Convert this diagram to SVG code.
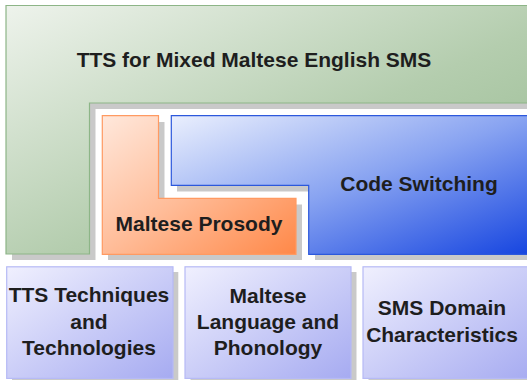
<svg xmlns="http://www.w3.org/2000/svg" width="527" height="380" viewBox="0 0 527 380">
  <defs>
    <linearGradient id="gGreen" x1="0" y1="0" x2="1" y2="1">
      <stop offset="0" stop-color="#eef3ec"/>
      <stop offset="0.55" stop-color="#b4cdae"/>
      <stop offset="1" stop-color="#93b88d"/>
    </linearGradient>
    <linearGradient id="gOrange" x1="0" y1="0" x2="1" y2="1">
      <stop offset="0" stop-color="#ffe8dc"/>
      <stop offset="0.5" stop-color="#ffbc98"/>
      <stop offset="1" stop-color="#ff8848"/>
    </linearGradient>
    <linearGradient id="gBlue" x1="0" y1="0" x2="1" y2="1">
      <stop offset="0" stop-color="#eaeffd"/>
      <stop offset="0.5" stop-color="#88a3f1"/>
      <stop offset="1" stop-color="#1645e0"/>
    </linearGradient>
    <linearGradient id="gLav" x1="0" y1="0" x2="1" y2="1">
      <stop offset="0" stop-color="#f0f0fe"/>
      <stop offset="1" stop-color="#a6abf1"/>
    </linearGradient>
  </defs>
  <style>
    .shadow { fill: #c9c9c9; }
    .label { font-family: "Liberation Sans", Arial, sans-serif; font-weight: bold; font-size: 21px; fill: #1e1e1e; text-anchor: middle; }
    .green { fill: url(#gGreen); stroke: #8db587; stroke-width: 1.2; }
    .orange { fill: url(#gOrange); stroke: #ff9a62; stroke-width: 1.2; }
    .blue { fill: url(#gBlue); stroke: #2c58dc; stroke-width: 1.2; }
    .lav { fill: url(#gLav); stroke: #b6baf6; stroke-width: 1.2; }
  </style>
  <rect width="527" height="380" fill="#ffffff"/>

  <g id="tts-mixed">
    <path class="shadow" d="M12,12 H536 V109 H95.5 V260 H12 Z"/>
    <path class="green" d="M6,5.5 H530 V103 H89.5 V254 H6 Z"/>
    <text class="label" x="254" y="67" font-size="21.5">TTS for Mixed Maltese English SMS</text>
  </g>

  <g id="maltese-prosody">
    <path class="shadow" d="M108,122 H164.5 V204.5 H302 V260 H108 Z"/>
    <path class="orange" d="M102.3,115.7 H158.5 V198.3 H296 V254.3 H102.3 Z"/>
    <text class="label" x="199" y="231">Maltese Prosody</text>
  </g>

  <g id="code-switching">
    <path class="shadow" d="M177,122 H536 V260 H315 V191.5 H177 Z"/>
    <path class="blue" d="M171.3,115.7 H530 V254.3 H308.7 V185.3 H171.3 Z"/>
    <text class="label" x="419" y="191">Code Switching</text>
  </g>

  <g id="tts-techniques">
    <rect class="shadow" x="12" y="272" width="166.3" height="112"/>
    <rect class="lav" x="6.7" y="266.8" width="166.3" height="111.6"/>
    <text class="label" x="89" y="301.5">TTS Techniques</text>
    <text class="label" x="89" y="328.5">and</text>
    <text class="label" x="89" y="355">Technologies</text>
  </g>

  <g id="maltese-language">
    <rect class="shadow" x="190.5" y="272" width="166" height="112"/>
    <rect class="lav" x="185" y="266.8" width="166" height="111.6"/>
    <text class="label" x="268" y="302.5">Maltese</text>
    <text class="label" x="268" y="329">Language and</text>
    <text class="label" x="268" y="354.5">Phonology</text>
  </g>

  <g id="sms-domain">
    <rect class="shadow" x="368.5" y="272" width="170" height="112"/>
    <rect class="lav" x="363" y="266.8" width="170" height="111.6"/>
    <text class="label" x="442" y="314.5">SMS Domain</text>
    <text class="label" x="442" y="341.5">Characteristics</text>
  </g>

  <g id="connectors"/>
</svg>
